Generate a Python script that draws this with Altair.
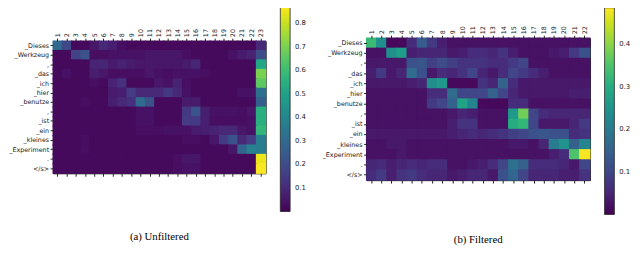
import altair as alt
import pandas as pd

src_tokens = ["_Dieses", "_Werkzeug", ",", "_das", "_ich", "_hier", "_benutze",
              ",", "_ist", "_ein", "_kleines", "_Experiment", ".", "</s>"]

# Unfiltered attention (14 source rows x 23 target columns)
unfiltered = [
    [0.30, 0.19, 0.02, 0.02, 0.05, 0.10, 0.07, 0.03, 0.02, 0.02, 0.02, 0.02, 0.02, 0.02, 0.02, 0.02, 0.02, 0.02, 0.02, 0.02, 0.02, 0.02, 0.10],
    [0.02, 0.02, 0.17, 0.22, 0.03, 0.03, 0.04, 0.04, 0.04, 0.04, 0.05, 0.05, 0.05, 0.05, 0.03, 0.02, 0.02, 0.02, 0.02, 0.04, 0.06, 0.08, 0.20],
    [0.02, 0.02, 0.02, 0.02, 0.08, 0.09, 0.06, 0.08, 0.06, 0.05, 0.05, 0.05, 0.05, 0.05, 0.06, 0.09, 0.02, 0.02, 0.02, 0.02, 0.02, 0.02, 0.52],
    [0.02, 0.04, 0.02, 0.02, 0.07, 0.05, 0.03, 0.03, 0.03, 0.03, 0.05, 0.04, 0.03, 0.04, 0.04, 0.04, 0.03, 0.02, 0.02, 0.02, 0.02, 0.02, 0.70],
    [0.02, 0.02, 0.02, 0.02, 0.03, 0.02, 0.08, 0.12, 0.02, 0.02, 0.02, 0.05, 0.04, 0.08, 0.03, 0.02, 0.02, 0.02, 0.02, 0.02, 0.02, 0.02, 0.66],
    [0.02, 0.02, 0.02, 0.02, 0.02, 0.02, 0.06, 0.07, 0.15, 0.10, 0.10, 0.10, 0.14, 0.10, 0.04, 0.02, 0.02, 0.02, 0.02, 0.02, 0.04, 0.04, 0.32],
    [0.02, 0.02, 0.02, 0.03, 0.02, 0.02, 0.07, 0.10, 0.12, 0.30, 0.22, 0.02, 0.02, 0.02, 0.06, 0.06, 0.02, 0.02, 0.02, 0.02, 0.02, 0.02, 0.26],
    [0.02, 0.02, 0.02, 0.02, 0.02, 0.02, 0.02, 0.02, 0.02, 0.04, 0.04, 0.02, 0.02, 0.02, 0.14, 0.22, 0.07, 0.04, 0.04, 0.04, 0.03, 0.05, 0.55],
    [0.02, 0.02, 0.02, 0.02, 0.02, 0.02, 0.02, 0.02, 0.02, 0.04, 0.04, 0.02, 0.02, 0.02, 0.15, 0.15, 0.07, 0.03, 0.03, 0.03, 0.03, 0.04, 0.55],
    [0.02, 0.02, 0.02, 0.02, 0.02, 0.02, 0.02, 0.02, 0.02, 0.03, 0.03, 0.03, 0.04, 0.04, 0.04, 0.06, 0.07, 0.08, 0.10, 0.10, 0.05, 0.04, 0.58],
    [0.02, 0.02, 0.02, 0.03, 0.02, 0.02, 0.02, 0.02, 0.02, 0.02, 0.02, 0.02, 0.02, 0.02, 0.03, 0.03, 0.02, 0.05, 0.15, 0.22, 0.10, 0.15, 0.37],
    [0.02, 0.02, 0.02, 0.03, 0.02, 0.02, 0.02, 0.02, 0.02, 0.02, 0.02, 0.02, 0.02, 0.02, 0.02, 0.02, 0.02, 0.02, 0.02, 0.05, 0.28, 0.38, 0.37],
    [0.02, 0.02, 0.02, 0.02, 0.02, 0.02, 0.02, 0.02, 0.02, 0.02, 0.02, 0.02, 0.02, 0.03, 0.05, 0.05, 0.02, 0.02, 0.02, 0.02, 0.02, 0.02, 0.85],
    [0.02, 0.02, 0.02, 0.02, 0.02, 0.02, 0.02, 0.02, 0.02, 0.02, 0.02, 0.02, 0.02, 0.03, 0.04, 0.04, 0.02, 0.02, 0.02, 0.02, 0.02, 0.02, 0.87],
]

# Filtered attention (14 source rows x 22 target columns)
filtered = [
    [0.33, 0.24, 0.01, 0.01, 0.06, 0.14, 0.08, 0.04, 0.02, 0.02, 0.02, 0.02, 0.02, 0.02, 0.02, 0.02, 0.02, 0.02, 0.02, 0.02, 0.02, 0.02],
    [0.02, 0.02, 0.24, 0.27, 0.04, 0.05, 0.05, 0.05, 0.03, 0.04, 0.06, 0.06, 0.05, 0.07, 0.04, 0.02, 0.02, 0.02, 0.03, 0.04, 0.08, 0.12],
    [0.03, 0.03, 0.03, 0.03, 0.12, 0.13, 0.09, 0.11, 0.09, 0.07, 0.07, 0.07, 0.06, 0.06, 0.08, 0.10, 0.02, 0.02, 0.02, 0.02, 0.02, 0.02],
    [0.04, 0.08, 0.03, 0.05, 0.17, 0.12, 0.03, 0.06, 0.05, 0.07, 0.10, 0.05, 0.03, 0.06, 0.10, 0.08, 0.06, 0.04, 0.02, 0.02, 0.02, 0.02],
    [0.03, 0.03, 0.03, 0.03, 0.04, 0.05, 0.24, 0.26, 0.01, 0.01, 0.01, 0.07, 0.05, 0.15, 0.06, 0.03, 0.03, 0.03, 0.03, 0.03, 0.03, 0.03],
    [0.02, 0.02, 0.02, 0.02, 0.02, 0.02, 0.06, 0.06, 0.17, 0.10, 0.10, 0.10, 0.15, 0.10, 0.05, 0.03, 0.03, 0.03, 0.03, 0.03, 0.04, 0.04],
    [0.02, 0.02, 0.02, 0.02, 0.02, 0.02, 0.08, 0.10, 0.15, 0.28, 0.22, 0.01, 0.01, 0.01, 0.06, 0.06, 0.02, 0.02, 0.02, 0.02, 0.02, 0.02],
    [0.02, 0.02, 0.02, 0.02, 0.02, 0.02, 0.02, 0.02, 0.03, 0.05, 0.04, 0.02, 0.02, 0.02, 0.26, 0.38, 0.10, 0.06, 0.05, 0.05, 0.05, 0.05],
    [0.02, 0.02, 0.02, 0.02, 0.02, 0.02, 0.02, 0.02, 0.04, 0.07, 0.07, 0.02, 0.02, 0.02, 0.30, 0.32, 0.10, 0.03, 0.03, 0.03, 0.05, 0.08],
    [0.03, 0.03, 0.03, 0.03, 0.03, 0.03, 0.03, 0.03, 0.04, 0.05, 0.06, 0.05, 0.06, 0.07, 0.09, 0.10, 0.12, 0.13, 0.12, 0.12, 0.06, 0.07],
    [0.02, 0.02, 0.03, 0.03, 0.02, 0.02, 0.02, 0.02, 0.02, 0.02, 0.02, 0.02, 0.02, 0.02, 0.03, 0.03, 0.02, 0.05, 0.20, 0.25, 0.15, 0.22],
    [0.02, 0.02, 0.02, 0.03, 0.02, 0.02, 0.02, 0.02, 0.02, 0.02, 0.02, 0.02, 0.02, 0.02, 0.02, 0.02, 0.02, 0.02, 0.04, 0.06, 0.35, 0.48],
    [0.05, 0.06, 0.04, 0.05, 0.06, 0.05, 0.06, 0.06, 0.02, 0.02, 0.03, 0.04, 0.06, 0.10, 0.18, 0.15, 0.06, 0.06, 0.06, 0.05, 0.03, 0.10],
    [0.06, 0.08, 0.04, 0.07, 0.08, 0.06, 0.05, 0.05, 0.03, 0.04, 0.05, 0.05, 0.03, 0.12, 0.16, 0.10, 0.05, 0.05, 0.05, 0.04, 0.04, 0.07],
]

left_ticks = [0.1, 0.2, 0.3, 0.4, 0.5, 0.6, 0.7, 0.8]
right_ticks = [0.1, 0.2, 0.3, 0.4]
left_domain = [0.0, 0.875]
right_domain = [0.0, 0.485]


def to_long(matrix):
    recs = []
    for i, r in enumerate(matrix):
        for j, v in enumerate(r):
            recs.append({"row": i, "col": j + 1, "v": v})
    return pd.DataFrame(recs)


label_expr = "[" + ",".join("'" + t + "'" for t in src_tokens) + "][datum.value]"


def panel(matrix, w, h, domain, ticks, lx, ly, glen, caption):
    df = to_long(matrix)
    ncols = len(matrix[0])
    xscale = alt.Scale(domain=list(range(1, ncols + 1)), paddingInner=0, paddingOuter=0)
    yscale = alt.Scale(domain=list(range(len(matrix))), paddingInner=0, paddingOuter=0)
    yaxis = alt.Axis(labelExpr=label_expr, labelPadding=1.5, tickSize=3)
    base = alt.Chart(df)
    heat = base.mark_rect(width=alt.RelativeBandSize(1.12),
                          height=alt.RelativeBandSize(1.12)).encode(
        x=alt.X("col:O", scale=xscale, title=None,
                axis=alt.Axis(orient="top", labelAngle=270, labelPadding=1.5, tickSize=3,
                              labelAlign="left", labelBaseline="middle")),
        y=alt.Y("row:O", scale=yscale, title=None, axis=yaxis),
        color=alt.Color("v:Q", scale=alt.Scale(scheme="viridis", domain=domain, clamp=True),
                        legend=alt.Legend(orient="none", legendX=lx, legendY=ly,
                                          direction="vertical", gradientLength=glen,
                                          gradientThickness=10, title=None, values=ticks,
                                          labelFontSize=7, labelOffset=5, labelColor="#222",
                                          labelFont="DejaVu Sans",
                                          gradientStrokeColor="#222", gradientStrokeWidth=0.8,
                                          format=".1f")),
    )
    bottom = base.mark_rect(opacity=0).encode(
        x=alt.X("col:O", scale=xscale, title=None,
                axis=alt.Axis(orient="bottom", labels=False, tickSize=3)),
        y=alt.Y("row:O", scale=yscale, title=None, axis=yaxis),
    )
    return alt.layer(heat, bottom).properties(
        width=w, height=h,
        title=alt.TitleParams(caption, orient="bottom", anchor="middle", frame="group",
                              font="Liberation Serif", fontSize=11, fontWeight="normal",
                              color="black", offset=19),
    )


left = panel(unfiltered, 217, 135, left_domain, left_ticks, 232, -36, 210, "(a) Unfiltered")
right = panel(filtered, 228, 145, right_domain, right_ticks, 243, -31, 211, "(b) Filtered")

chart = alt.hconcat(left, right, spacing=14, center=True).resolve_scale(
    color="independent"
).configure_view(
    stroke="black", strokeWidth=1
).configure_axis(
    domain=False, grid=False, tickColor="#222", labelColor="#222",
    labelFont="DejaVu Sans", labelFontSize=6.5
).properties(padding={"left": 0, "top": -6, "right": 0, "bottom": 0})

chart.save("out.html", embed_options={"renderer": "svg", "actions": False})
